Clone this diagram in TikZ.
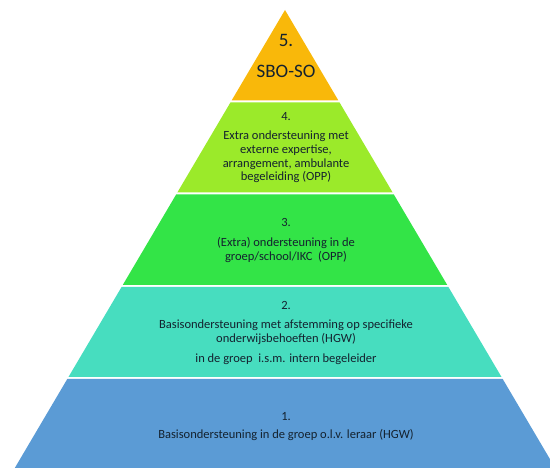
\documentclass[tikz,border=0pt]{standalone}
\usepackage{fontspec}
\setmainfont{Carlito}
\usepackage{tikz}
\usetikzlibrary{positioning, calc}
\usepackage{xcolor}

\definecolor{lvlfive}{HTML}{F9B80A}
\definecolor{lvlfour}{HTML}{9BEA2A}
\definecolor{lvlthree}{HTML}{33E447}
\definecolor{lvltwo}{HTML}{47DDBF}
\definecolor{lvlone}{HTML}{5B9BD5}
\definecolor{lvltext}{HTML}{14222F}

\begin{document}
\begin{tikzpicture}[x=1pt, y=-1pt,
    leveltext/.style={text=lvltext, align=center, inner sep=0pt,
      font=\fontsize{12.5}{13.6}\selectfont},
    bigtext/.style={text=lvltext, align=center, inner sep=0pt,
      font=\fontsize{19}{21}\selectfont}]
      \useasboundingbox (0, 0) rectangle (550, 468);
      \clip (0, 0) rectangle (550, 468);

      % bands of the pyramid, apex at (285,10)
      \foreach \ytop/\ybot/\col in {10/100.5/lvlfive, 102.5/192.5/lvlfour,
          194.5/285/lvlthree, 287/377/lvltwo, 379/480/lvlone}
        \fill[\col] ({285-0.59*(\ytop-10)}, \ytop) -- ({285+0.59*(\ytop-10)}, \ytop)
          -- ({285+0.59*(\ybot-10)}, \ybot) -- ({285-0.59*(\ybot-10)}, \ybot) -- cycle;

      \node[bigtext] (n5) at (286, 40) {5.};
      \node[bigtext] (t5) at (286, 71) {SBO-SO};

      \node[leveltext] (n4) at (286, 117) {4.};
      \node[leveltext] (t4) at (286, 157) {Extra ondersteuning met\\externe expertise,\\arrangement, ambulante\\begeleiding (OPP)};

      \node[leveltext] (n3) at (286, 222.5) {3.};
      \node[leveltext] (t3) at (286, 250) {(Extra) ondersteuning in de\\groep/school/IKC\ \ (OPP)};

      \node[leveltext] (n2) at (286, 305) {2.};
      \node[leveltext] (t2) at (286, 332.5) {Basisondersteuning met afstemming op specifieke\\onderwijsbehoeften (HGW)};
      \node[leveltext] (u2) at (286, 359) {in de groep\ \ i.s.m. intern begeleider};

      \node[leveltext] (n1) at (286, 416.5) {1.};
      \node[leveltext] (t1) at (286, 435) {Basisondersteuning in de groep o.l.v. leraar (HGW)};

    \end{tikzpicture}
\end{document}
